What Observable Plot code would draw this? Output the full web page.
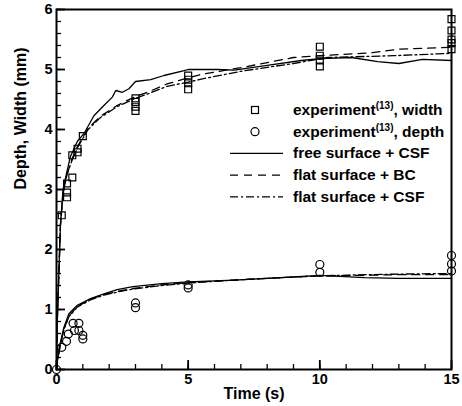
<!DOCTYPE html>
<html>
<head>
<meta charset="utf-8">
<script src="https://cdn.jsdelivr.net/npm/d3@7"></script>
<script src="https://cdn.jsdelivr.net/npm/@observablehq/plot@0.6"></script>
<style>
  html, body { margin: 0; padding: 0; background: white; }
  #chart { position: relative; width: 462px; height: 406px; }
  #chart svg { position: absolute; left: 0; top: 0; }
</style>
</head>
<body>
<div id="chart"></div>
<script>
// ---- Data ----
const widthExpT = [0.2, 0.4, 0.4, 0.4, 0.6, 0.6, 0.8, 0.8, 1.0, 3, 3, 3, 3, 5, 5, 5, 5, 10, 10, 10, 10, 15, 15, 15, 15, 15];
const widthExpV = [2.57, 2.87, 2.95, 3.1, 3.2, 3.57, 3.62, 3.68, 3.89, 4.52, 4.46, 4.38, 4.31, 4.9, 4.83, 4.77, 4.67, 5.38, 5.23, 5.15, 5.05, 5.84, 5.65, 5.5, 5.44, 5.34];

const depthExpT = [0, 0.2, 0.38, 0.45, 0.63, 0.85, 0.68, 0.85, 1.0, 1.0, 3, 3, 5, 5, 10, 10, 15, 15, 15];
const depthExpV = [0, 0.37, 0.47, 0.59, 0.77, 0.77, 0.65, 0.65, 0.57, 0.51, 1.11, 1.03, 1.41, 1.36, 1.75, 1.62, 1.9, 1.76, 1.64];

// free surface + CSF (solid), width
const freeWT = [0, 0.03, 0.09, 0.15, 0.25, 0.38, 0.53, 0.79, 1.04, 1.42, 1.8, 2.12, 2.25, 2.5, 2.75, 3.0, 3.58, 4.08, 4.85, 5.0, 6.1, 6.75, 8.0, 9.3, 10, 11.2, 12.2, 13, 13.9, 15];
const freeWV = [0, 0.8, 1.6, 2.43, 3.0, 3.27, 3.55, 3.8, 3.93, 4.23, 4.4, 4.54, 4.65, 4.62, 4.68, 4.8, 4.83, 4.9, 4.98, 5.0, 5.0, 4.99, 5.07, 5.15, 5.18, 5.2, 5.13, 5.1, 5.17, 5.15];
// flat surface + BC (dashed), width
const bcWT = [0, 0.03, 0.09, 0.15, 0.25, 0.4, 0.6, 0.8, 1.0, 1.2, 1.67, 2.3, 3.0, 3.45, 4.2, 5.0, 5.5, 7.0, 9.0, 10, 12, 13, 15];
const bcWV = [0, 0.8, 1.6, 2.4, 2.95, 3.25, 3.52, 3.72, 3.87, 4.02, 4.22, 4.4, 4.55, 4.62, 4.76, 4.86, 4.92, 5.03, 5.2, 5.23, 5.28, 5.34, 5.37];
// flat surface + CSF (dash-dot), width
const csfWT = [0, 0.03, 0.09, 0.15, 0.25, 0.4, 0.6, 0.8, 1.0, 1.2, 1.67, 2.3, 3.0, 3.45, 4.2, 5.0, 5.5, 7.0, 9.0, 10.3, 12.8, 15];
const csfWV = [0, 0.8, 1.6, 2.4, 2.95, 3.25, 3.5, 3.7, 3.85, 4.0, 4.2, 4.38, 4.52, 4.59, 4.72, 4.79, 4.84, 4.97, 5.1, 5.2, 5.23, 5.27];

// depth lines
const freeDT = [0, 0.05, 0.15, 0.28, 0.47, 0.79, 1.29, 1.8, 2.3, 2.9, 4.0, 5.0, 6.75, 8.0, 10, 11.7, 13, 15];
const freeDV = [0, 0.2, 0.45, 0.7, 0.93, 1.07, 1.18, 1.26, 1.33, 1.38, 1.43, 1.46, 1.49, 1.52, 1.57, 1.53, 1.52, 1.52];
const bcDT = [0, 0.05, 0.15, 0.28, 0.47, 0.79, 1.29, 1.8, 2.3, 2.9, 4.0, 5.0, 6.75, 8.0, 10, 11.7, 13, 15];
const bcDV = [0, 0.18, 0.43, 0.67, 0.89, 1.05, 1.17, 1.25, 1.3, 1.35, 1.41, 1.45, 1.49, 1.52, 1.56, 1.57, 1.58, 1.58];
const csfDT = [0, 0.05, 0.15, 0.28, 0.47, 0.79, 1.29, 1.8, 2.3, 2.9, 4.0, 5.0, 6.75, 8.0, 10, 11.7, 13, 15];
const csfDV = [0, 0.18, 0.42, 0.66, 0.88, 1.04, 1.16, 1.24, 1.29, 1.34, 1.4, 1.44, 1.49, 1.52, 1.56, 1.58, 1.59, 1.6];

const xMajor = [0, 5, 10, 15];
const xMinor = d3.range(0, 16, 1);
const yMajor = [0, 1, 2, 3, 4, 5, 6];
const yMinor = d3.range(0, 6.01, 0.2).map(v => +v.toFixed(1));

const xLabel = "Time (s)";
const yLabel = "Depth, Width (mm)";

const legendItems = [
  {kind: "square", main: "experiment", sup: "(13)", rest: ", width"},
  {kind: "circle", main: "experiment", sup: "(13)", rest: ", depth"},
  {kind: "solid", main: "free surface + CSF"},
  {kind: "dashed", main: "flat surface + BC"},
  {kind: "dashdot", main: "flat surface + CSF"}
];

// ---- Build tables ----
const zip = (T, V) => T.map((t, i) => ({t, v: V[i]}));
const widthExp = zip(widthExpT, widthExpV);
const depthExp = zip(depthExpT, depthExpV);

const DASH = "8,6";
const DASHDOT = "8,3,2,3";
const LW = 1.3;

const font = "'Liberation Sans', Arial, Helvetica, sans-serif";
const noText = () => "";

const plot = Plot.plot({
  width: 462,
  height: 406,
  marginLeft: 56,
  marginRight: 11,
  marginTop: 9,
  marginBottom: 37,
  x: {domain: [0, 15]},
  y: {domain: [0, 6]},
  style: {fontFamily: font, fontSize: "14px", fontWeight: "bold", color: "black", background: "white"},
  marks: [
    // ticks inward
    Plot.axisX(xMinor, {tickSize: -5, tickFormat: noText, label: null, strokeWidth: 1.3}),
    Plot.axisX(xMajor, {tickSize: -9, tickFormat: noText, label: null, strokeWidth: 1.8}),
    Plot.axisY(yMinor, {tickSize: -5, tickFormat: noText, label: null, strokeWidth: 1.3}),
    Plot.axisY(yMajor, {tickSize: -9, tickFormat: noText, label: null, strokeWidth: 1.8}),
    // labels
    Plot.axisX(xMajor, {tickSize: 0, tickPadding: 4, label: null, tickFormat: d3.format("d"), fontSize: 14.5, fontWeight: "bold"}),
    Plot.axisY(yMajor, {tickSize: 0, tickPadding: 4, label: null, tickFormat: d3.format("d"), fontSize: 14.5, fontWeight: "bold"}),
    // lines
    Plot.line(zip(freeWT, freeWV), {x: "t", y: "v", stroke: "black", strokeWidth: LW}),
    Plot.line(zip(bcWT, bcWV), {x: "t", y: "v", stroke: "black", strokeWidth: LW, strokeDasharray: DASH}),
    Plot.line(zip(csfWT, csfWV), {x: "t", y: "v", stroke: "black", strokeWidth: LW, strokeDasharray: DASHDOT}),
    Plot.line(zip(freeDT, freeDV), {x: "t", y: "v", stroke: "black", strokeWidth: LW}),
    Plot.line(zip(bcDT, bcDV), {x: "t", y: "v", stroke: "black", strokeWidth: LW, strokeDasharray: DASH}),
    Plot.line(zip(csfDT, csfDV), {x: "t", y: "v", stroke: "black", strokeWidth: LW, strokeDasharray: DASHDOT}),
    // experiments
    Plot.dot(widthExp, {x: "t", y: "v", symbol: "square", r: 3.9, stroke: "black", strokeWidth: 1.2, fill: "none"}),
    Plot.dot(depthExp, {x: "t", y: "v", symbol: "circle", r: 4, stroke: "black", strokeWidth: 1.2, fill: "none"}),
    Plot.frame({stroke: "black", strokeWidth: 2}),
    // axis titles
    Plot.text([xLabel], {frameAnchor: "bottom", text: d => d, lineAnchor: "top", dy: 18, fontSize: 16, fontWeight: "bold"}),
    Plot.text([yLabel], {frameAnchor: "left", text: d => d, rotate: -90, dx: -36, fontSize: 16, fontWeight: "bold"})
  ]
});

const chart = document.getElementById("chart");
chart.appendChild(plot);

// ---- Legend overlay ----
const leg = d3.select(chart).append("svg")
  .attr("width", 462).attr("height", 406)
  .style("pointer-events", "none")
  .attr("font-family", font).attr("font-weight", "bold").attr("font-size", 15.5);

const rowY0 = 110, rowStep = 21.7, symX = 255, lineX1 = 230, lineX2 = 283, textX = 293;
legendItems.forEach((it, i) => {
  const y = rowY0 + i * rowStep;
  if (it.kind === "square") {
    leg.append("rect").attr("x", symX - 3.5).attr("y", y - 3.5).attr("width", 7).attr("height", 7)
      .attr("fill", "none").attr("stroke", "black").attr("stroke-width", 1.2);
  } else if (it.kind === "circle") {
    leg.append("circle").attr("cx", symX).attr("cy", y).attr("r", 4)
      .attr("fill", "none").attr("stroke", "black").attr("stroke-width", 1.2);
  } else {
    leg.append("line").attr("x1", lineX1).attr("x2", lineX2).attr("y1", y).attr("y2", y)
      .attr("stroke", "black").attr("stroke-width", LW)
      .attr("stroke-dasharray", it.kind === "dashed" ? DASH : it.kind === "dashdot" ? DASHDOT : null);
  }
  const t = leg.append("text").attr("x", textX).attr("y", y + 5);
  t.append("tspan").text(it.main);
  if (it.sup) {
    t.append("tspan").attr("font-size", 10).attr("dy", -6).text(it.sup);
    t.append("tspan").attr("dy", 6).text(it.rest);
  }
});
</script>
</body>
</html>
